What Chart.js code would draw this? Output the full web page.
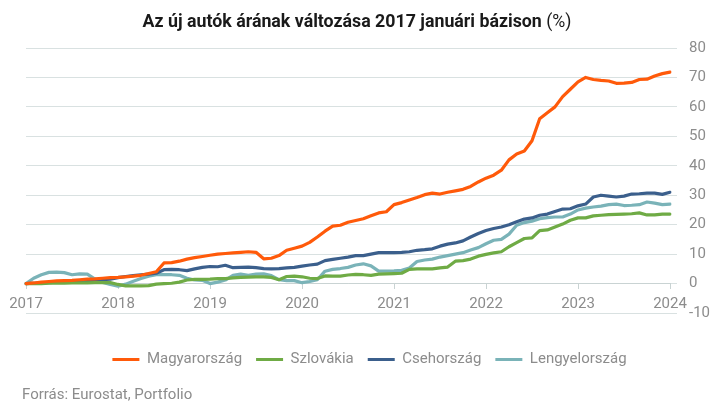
<!DOCTYPE html>
<html lang="hu">
<head>
<meta charset="utf-8">
<script src="https://cdn.jsdelivr.net/npm/chart.js@4"></script>
<style>
  html, body { margin: 0; padding: 0; background: #fff; }
  #wrap { width: 713px; height: 416px; position: relative; }
</style>
</head>
<body>
<div id="wrap"><canvas id="chart"></canvas></div>
<script>
// Monthly index, Jan 2017 = 0 (%)
const startYear = 2017;
const monthCount = 85; // 2017-01 .. 2024-01

const hungary = [
  0, 0.2, 0.5, 0.7, 0.9, 1.0, 1.1, 1.3, 1.5, 1.6, 1.8, 2.0,
  2.1, 2.3, 2.5, 2.8, 3.4, 4.0, 7.0, 7.1, 7.6, 8.3, 8.8, 9.2,
  9.6, 10.0, 10.2, 10.4, 10.6, 10.8, 10.6, 8.4, 8.6, 9.5, 11.3, 12.0,
  12.7, 14.0, 15.8, 17.8, 19.5, 19.8, 20.8, 21.4, 22.0, 23.0, 24.0, 24.4,
  26.8, 27.5, 28.4, 29.2, 30.2, 30.7, 30.4, 31.0, 31.5, 32.0, 33.0, 34.5,
  35.8, 36.8, 38.5, 42.0, 44.0, 45.0, 48.5, 56.0, 58.0, 60.0, 63.5, 66.0,
  68.5, 70.0, 69.3, 69.0, 68.8, 68.0, 68.1, 68.3, 69.3, 69.4, 70.5, 71.3,
  71.8
];
const slovakia = [
  0, 0, 0, 0.1, 0.1, 0.1, 0.2, 0.2, 0.2, 0.3, 0.3, 0.3,
  -0.3, -0.8, -0.8, -0.8, -0.7, -0.2, 0, 0.1, 0.5, 1.2, 1.4, 1.4,
  1.5, 1.7, 1.7, 1.9, 2.1, 2.2, 2.3, 2.3, 2.1, 1.3, 2.4, 2.5,
  2.3, 1.8, 1.7, 2.6, 2.5, 2.5, 2.9, 3.1, 3.0, 2.8, 3.2, 3.3,
  3.4, 3.5, 4.8, 5.0, 5.0, 5.0, 5.3, 5.6, 7.6, 7.8, 8.3, 9.3,
  9.9, 10.4, 10.8, 12.5, 13.9, 15.3, 15.5, 18.0, 18.2, 19.2, 20.2, 21.5,
  22.3, 22.3, 23.0, 23.2, 23.4, 23.5, 23.6, 23.7, 24.0, 23.3, 23.3, 23.6,
  23.6
];
const czechia = [
  0, 0.1, 0.2, 0.3, 0.5, 0.6, 0.8, 0.9, 1.0, 1.1, 1.3, 1.5,
  2.0, 2.4, 2.7, 3.0, 3.2, 3.5, 4.7, 4.8, 4.7, 4.4, 5.0, 5.5,
  5.8, 5.7, 6.2, 5.4, 5.5, 5.6, 5.4, 5.1, 5.0, 5.1, 5.3, 5.5,
  5.9, 6.3, 6.6, 7.8, 8.2, 8.6, 9.0, 9.5, 9.5, 10.0, 10.5, 10.5,
  10.5, 10.6, 10.8, 11.3, 11.5, 11.8, 12.7, 13.4, 13.8, 14.5, 15.8, 17.0,
  18.0, 18.7, 19.2, 20.0, 21.0, 21.9, 22.3, 23.2, 23.6, 24.5, 25.3, 25.4,
  26.4, 27.0, 29.4, 30.0, 29.7, 29.4, 29.7, 30.4, 30.5, 30.7, 30.7, 30.3,
  31.0
];
const poland = [
  0, 1.8, 3.0, 3.8, 3.9, 3.7, 3.0, 3.3, 3.2, 1.5, 0.4, -0.3,
  -0.9, -0.2, 0.8, 1.7, 2.5, 3.0, 3.0, 3.0, 2.8, 1.8, 1.2, 1.1,
  0.0, 0.5, 1.2, 2.8, 3.2, 2.8, 3.2, 3.3, 2.7, 1.3, 1.0, 1.0,
  0.3, 0.7, 1.3, 4.2, 4.8, 5.1, 5.5, 6.3, 6.7, 6.0, 4.2, 4.2,
  4.3, 4.5, 5.3, 7.5, 8.0, 8.3, 9.0, 9.5, 10.0, 10.5, 11.4, 12.2,
  13.5, 14.7, 15.0, 16.8, 19.8, 20.7, 21.2, 22.0, 22.4, 22.6, 22.6, 23.6,
  25.0, 25.6, 26.0, 26.3, 26.8, 27.0, 26.5, 26.6, 26.8, 27.7, 27.3, 26.8,
  27.0
];

const seriesNames = ['Magyarország', 'Szlovákia', 'Csehország', 'Lengyelország'];
const seriesColors = ['#ff5a0a', '#6fab45', '#3b5f8c', '#7ab3b8'];

const titleBold = 'Az új autók árának változása 2017 januári bázison';
const titleRest = ' (%)';
const sourceText = 'Forrás: Eurostat, Portfolio';

const labels = [];
for (let i = 0; i < monthCount; i++) {
  const y = startYear + Math.floor(i / 12);
  const m = (i % 12) + 1;
  labels.push(y + '-' + String(m).padStart(2, '0'));
}

const FONT = "Roboto, 'Noto Sans', sans-serif";
const GREY = '#8c8c8c';
const GRID = '#d9e1e1';

// title + source line drawn straight onto the canvas
const textPlugin = {
  id: 'headline',
  afterDraw(chart) {
    const ctx = chart.ctx;
    ctx.save();
    ctx.font = 'bold 19px ' + FONT;
    const w1 = ctx.measureText(titleBold).width;
    ctx.font = '19px ' + FONT;
    const w2 = ctx.measureText(titleRest).width;
    const sx = 429 / (w1 + w2); // condensed look
    ctx.translate(357, 22);
    ctx.scale(sx, 1);
    ctx.textBaseline = 'middle';
    ctx.fillStyle = '#1a1a1a';
    const x0 = -(w1 + w2) / 2;
    ctx.font = 'bold 19px ' + FONT;
    ctx.fillText(titleBold, x0, 0);
    ctx.font = '19px ' + FONT;
    ctx.fillText(titleRest, x0 + w1, 0);
    ctx.restore();

    ctx.save();
    ctx.font = '15px ' + FONT;
    ctx.fillStyle = GREY;
    ctx.textBaseline = 'middle';
    ctx.fillText(sourceText, 22, 395);
    ctx.restore();
  }
};

const seriesData = [hungary, slovakia, czechia, poland];

new Chart(document.getElementById('chart').getContext('2d'), {
  type: 'line',
  data: {
    labels: labels,
    datasets: seriesData.map((d, i) => ({
      label: seriesNames[i],
      data: d,
      xAxisID: 'x',
      borderColor: seriesColors[i],
      backgroundColor: seriesColors[i],
      borderWidth: 3.2,
      pointRadius: 0,
      tension: 0,
      borderJoinStyle: 'round',
      borderCapStyle: 'round'
    }))
  },
  options: {
    responsive: true,
    maintainAspectRatio: false,
    animation: false,
    layout: { padding: { top: 48, left: 26, right: 0, bottom: 39 } },
    plugins: {
      legend: {
        position: 'bottom',
        labels: {
          boxWidth: 27,
          boxHeight: 3,
          padding: 14,
          color: GREY,
          font: { family: FONT, size: 15 },
          generateLabels: (chart) =>
            Chart.defaults.plugins.legend.labels.generateLabels(chart).map(l => ({ ...l, lineWidth: 0 }))
        }
      },
      tooltip: { enabled: false }
    },
    scales: {
      x: {
        type: 'category',
        position: { y: 0 },
        grid: {
          drawOnChartArea: false,
          tickLength: 5,
          color: (c) => (c.index % 12 === 0 ? '#c9d3d3' : 'rgba(0,0,0,0)')
        },
        border: { display: true, color: '#c9d3d3' },
        ticks: {
          autoSkip: false,
          maxRotation: 0,
          padding: 7,
          color: GREY,
          font: { family: FONT, size: 15 },
          callback: (v, i) => (i % 12 === 0 ? labels[i].slice(0, 4) : '')
        }
      },
      pad: {
        type: 'category',
        position: 'bottom',
        grid: { display: false },
        border: { display: false },
        ticks: { display: false },
        afterFit: (s) => { s.height = 25; }
      },
      y: {
        position: 'right',
        min: -10,
        max: 80,
        afterFit: (s) => { s.width = 43; },
        ticks: {
          stepSize: 10,
          padding: 12,
          color: GREY,
          font: { family: FONT, size: 15 }
        },
        grid: { color: GRID, tickLength: 7 },
        border: { display: false }
      }
    }
  },
  plugins: [textPlugin]
});
</script>
</body>
</html>
